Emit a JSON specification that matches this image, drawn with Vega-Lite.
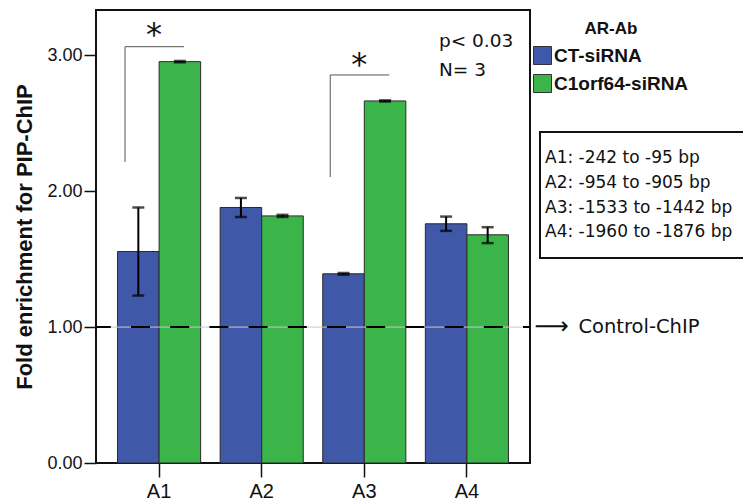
{
  "$schema": "https://vega.github.io/schema/vega-lite/v6.json",
  "width": 434,
  "height": 453,
  "autosize": {"type": "none"},
  "padding": {"left": 96, "top": 10, "right": 213, "bottom": 41},
  "background": "white",
  "config": {
    "font": "Liberation Sans",
    "view": {"stroke": "#111", "strokeWidth": 2},
    "axisY": {"domain": false, "grid": false, "tickSize": 12, "tickWidth": 1.5, "tickColor": "#111", "labelFontSize": 18, "labelColor": "#111", "labelPadding": 2, "titleFontSize": 22, "titleFontWeight": "bold", "titleColor": "#111", "titlePadding": 10},
    "axisX": {"domain": false, "grid": false, "tickSize": 14, "tickWidth": 1.5, "tickColor": "#111", "labelFontSize": 20, "labelColor": "#111", "labelPadding": 4, "labelAngle": 0, "bandPosition": 0.5},
    "legend": {"strokeWidth": 2}
  },
  "datasets": {
    "bars": [
      {"region": "A1", "group": "CT-siRNA", "value": 1.556, "lo": 1.232, "hi": 1.88},
      {"region": "A1", "group": "C1orf64-siRNA", "value": 2.953, "lo": 2.948, "hi": 2.958},
      {"region": "A2", "group": "CT-siRNA", "value": 1.88, "lo": 1.81, "hi": 1.95},
      {"region": "A2", "group": "C1orf64-siRNA", "value": 1.818, "lo": 1.81, "hi": 1.826},
      {"region": "A3", "group": "CT-siRNA", "value": 1.392, "lo": 1.386, "hi": 1.398},
      {"region": "A3", "group": "C1orf64-siRNA", "value": 2.664, "lo": 2.66, "hi": 2.668},
      {"region": "A4", "group": "CT-siRNA", "value": 1.76, "lo": 1.708, "hi": 1.813},
      {"region": "A4", "group": "C1orf64-siRNA", "value": 1.679, "lo": 1.618, "hi": 1.735}
    ],
    "brackets": [
      {"region": "A1", "bottom": 2.215, "top": 3.063, "star": 3.072, "mark": "*"},
      {"region": "A3", "bottom": 2.104, "top": 2.855, "star": 2.853, "mark": "*"}
    ],
    "notes": [
      {"region": "A4", "label": "p< 0.03", "y": 3.063},
      {"region": "A4", "label": "N= 3", "y": 2.848}
    ],
    "control": [
      {"region": "A4", "label": "Control-ChIP", "arrow": "⟶", "y": 1}
    ],
    "amplicons": [
      {"desc": "A1: -242 to -95 bp"},
      {"desc": "A2: -954 to -905 bp"},
      {"desc": "A3: -1533 to -1442 bp"},
      {"desc": "A4: -1960 to -1876 bp"}
    ]
  },
  "layer": [
    {
      "data": {"name": "bars"},
      "mark": {"type": "bar", "stroke": "#2a2a2a", "strokeWidth": 1},
      "encoding": {
        "x": {"field": "region", "type": "nominal", "title": null, "scale": {"paddingInner": 0.19, "paddingOuter": 0.21}},
        "xOffset": {"field": "group", "type": "nominal", "scale": {"domain": ["CT-siRNA", "C1orf64-siRNA"], "paddingInner": 0, "paddingOuter": 0}},
        "y": {"field": "value", "type": "quantitative", "title": "Fold enrichment for PIP-ChIP", "scale": {"domain": [0, 3.333], "nice": false, "zero": true}, "axis": {"values": [0, 1, 2, 3], "format": ".2f"}},
        "color": {"field": "group", "type": "nominal", "scale": {"domain": ["CT-siRNA", "C1orf64-siRNA"], "range": ["#3F58A8", "#3BB54A"]},
          "legend": {"orient": "none", "legendX": 437, "legendY": 11, "title": "AR-Ab", "titleFontSize": 17, "titleFontWeight": "bold", "titleColor": "#111", "titleAnchor": "middle", "titlePadding": 8, "labelFontSize": 19, "labelFontWeight": "bold", "labelColor": "#111", "labelOffset": 2, "symbolType": "square", "symbolSize": 324, "symbolStrokeColor": "#333", "symbolStrokeWidth": 1, "symbolOpacity": 1, "rowPadding": 5, "padding": 0, "labelLimit": 300}}
      }
    },
    {
      "data": {"name": "bars"},
      "mark": {"type": "rule", "color": "#000", "strokeWidth": 2},
      "encoding": {
        "x": {"field": "region", "type": "nominal", "title": null},
        "xOffset": {"field": "group", "type": "nominal"},
        "y": {"field": "lo", "type": "quantitative", "title": "Fold enrichment for PIP-ChIP"},
        "y2": {"field": "hi"}
      }
    },
    {
      "data": {"name": "bars"},
      "mark": {"type": "tick", "color": "#000", "size": 12, "thickness": 2.5, "orient": "horizontal"},
      "encoding": {
        "x": {"field": "region", "type": "nominal", "title": null},
        "xOffset": {"field": "group", "type": "nominal"},
        "y": {"field": "lo", "type": "quantitative", "title": "Fold enrichment for PIP-ChIP"}
      }
    },
    {
      "data": {"name": "bars"},
      "mark": {"type": "tick", "color": "#000", "size": 12, "thickness": 2.5, "orient": "horizontal"},
      "encoding": {
        "x": {"field": "region", "type": "nominal", "title": null},
        "xOffset": {"field": "group", "type": "nominal"},
        "y": {"field": "hi", "type": "quantitative", "title": "Fold enrichment for PIP-ChIP"}
      }
    },
    {
      "data": {"name": "control"},
      "mark": {"type": "rule", "color": "#c8c8c8", "strokeWidth": 1},
      "encoding": {
        "y": {"field": "y", "type": "quantitative", "title": "Fold enrichment for PIP-ChIP"}
      }
    },
    {
      "data": {"name": "control"},
      "mark": {"type": "rule", "color": "#000", "strokeWidth": 2, "strokeDash": [19, 20.2], "strokeDashOffset": 12},
      "encoding": {
        "y": {"field": "y", "type": "quantitative", "title": "Fold enrichment for PIP-ChIP"}
      }
    },
    {
      "data": {"name": "brackets"},
      "mark": {"type": "rule", "color": "#555", "strokeWidth": 1},
      "encoding": {
        "x": {"field": "region", "type": "nominal", "title": null, "bandPosition": 0.09},
        "y": {"field": "bottom", "type": "quantitative", "title": "Fold enrichment for PIP-ChIP"},
        "y2": {"field": "top"}
      }
    },
    {
      "data": {"name": "brackets"},
      "mark": {"type": "rule", "color": "#555", "strokeWidth": 1},
      "encoding": {
        "x": {"field": "region", "type": "nominal", "title": null, "bandPosition": 0.09},
        "x2": {"field": "region", "bandPosition": 0.8},
        "y": {"field": "top", "type": "quantitative", "title": "Fold enrichment for PIP-ChIP"}
      }
    },
    {
      "data": {"name": "brackets"},
      "mark": {"type": "text", "font": "DejaVu Sans", "fontSize": 32, "align": "center", "baseline": "alphabetic", "color": "#111"},
      "encoding": {
        "x": {"field": "region", "type": "nominal", "title": null, "bandPosition": 0.44},
        "y": {"field": "star", "type": "quantitative", "title": "Fold enrichment for PIP-ChIP"},
        "text": {"field": "mark"}
      }
    },
    {
      "data": {"name": "notes"},
      "mark": {"type": "text", "font": "DejaVu Sans", "fontSize": 18.5, "align": "left", "baseline": "alphabetic", "color": "#111"},
      "encoding": {
        "x": {"field": "region", "type": "nominal", "title": null, "bandPosition": 0.164},
        "y": {"field": "y", "type": "quantitative", "title": "Fold enrichment for PIP-ChIP"},
        "text": {"field": "label"}
      }
    },
    {
      "data": {"name": "control"},
      "mark": {"type": "text", "font": "DejaVu Sans", "fontSize": 19.5, "align": "left", "baseline": "middle", "color": "#111", "dx": 70},
      "encoding": {
        "x": {"field": "region", "type": "nominal", "title": null, "bandPosition": 1},
        "y": {"field": "y", "type": "quantitative", "title": "Fold enrichment for PIP-ChIP"},
        "text": {"field": "label"}
      }
    },
    {
      "data": {"name": "control"},
      "mark": {"type": "text", "font": "DejaVu Sans", "fontSize": 24, "align": "left", "baseline": "middle", "color": "#111", "dx": 26},
      "encoding": {
        "x": {"field": "region", "type": "nominal", "title": null, "bandPosition": 1},
        "y": {"field": "y", "type": "quantitative", "title": "Fold enrichment for PIP-ChIP"},
        "text": {"field": "arrow"}
      }
    },
    {
      "data": {"name": "amplicons"},
      "mark": {"type": "point", "opacity": 0},
      "encoding": {
        "shape": {"field": "desc", "type": "nominal",
          "legend": {"orient": "none", "legendX": 444, "legendY": 122, "title": null, "strokeColor": "#111", "padding": 13, "symbolSize": 625, "symbolOpacity": 0, "symbolStrokeWidth": 0, "symbolFillColor": "transparent", "rowPadding": 0.3, "labelOffset": -33, "labelFont": "DejaVu Sans", "labelFontSize": 17, "labelColor": "#111", "labelLimit": 400}}
      }
    }
  ]
}
